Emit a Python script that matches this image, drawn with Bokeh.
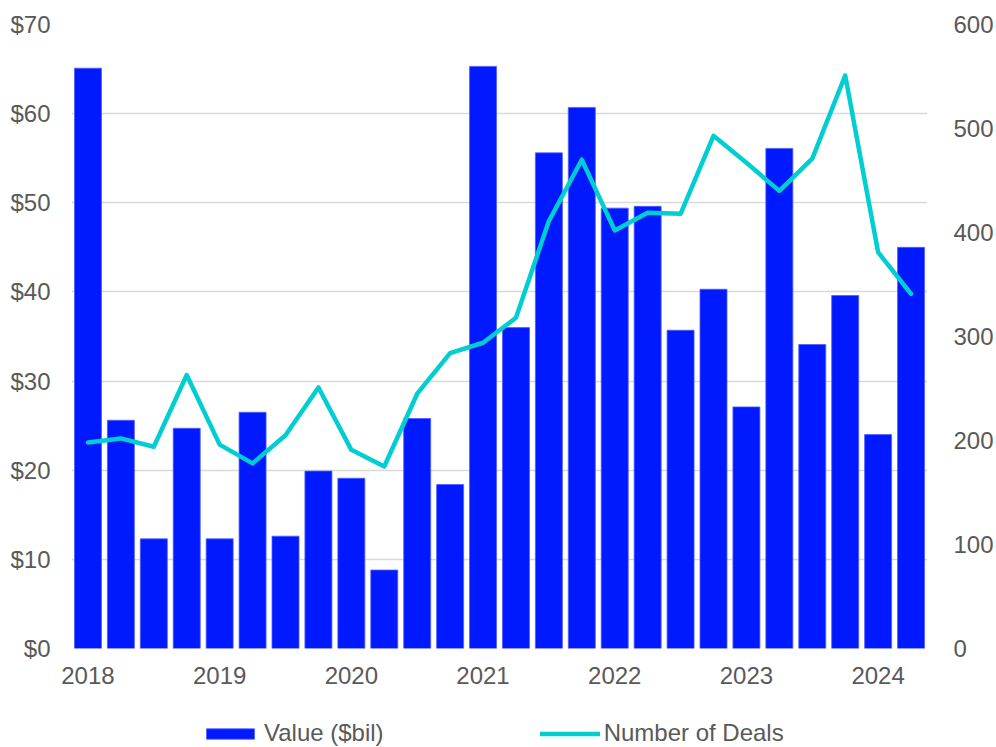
from bokeh.plotting import figure
from bokeh.layouts import column
from bokeh.models import (ColumnDataSource, Range1d, LinearAxis, FixedTicker,
                          NumeralTickFormatter, Legend, LegendItem)
from bokeh.embed import file_html
from bokeh.resources import INLINE

quarters = [f"{y} Q{q}" for y in range(2018, 2025) for q in range(1, 5)][:26]
values = [65.1, 25.6, 12.3, 24.7, 12.3, 26.5, 12.6, 19.9, 19.1, 8.8, 25.8, 18.4,
          65.3, 36.0, 55.6, 60.7, 49.4, 49.6, 35.7, 40.3, 27.1, 56.1, 34.1, 39.6,
          24.0, 45.0]
deals = [198, 202, 194, 263, 196, 178, 205, 251, 191, 175, 245, 284,
         294, 318, 411, 470, 402, 419, 418, 493, 467, 440, 471, 551,
         381, 341]
year_labels = ["2018", "2019", "2020", "2021", "2022", "2023", "2024"]
left_ticks = [0, 10, 20, 30, 40, 50, 60, 70]
right_ticks = [0, 100, 200, 300, 400, 500, 600]

idx = list(range(len(quarters)))
src = ColumnDataSource(dict(x=idx, q=quarters, v=values, d=deals))

FONT = "Liberation Sans"
TXT = "#595959"
BLUE = "#0019FF"
TEAL = "#00CED1"

p = figure(width=996, height=690, output_backend="svg", toolbar_location=None,
           x_range=Range1d(-0.5, len(quarters) - 0.5), y_range=Range1d(0, 70),
           min_border_left=71, min_border_right=64, min_border_top=24,
           min_border_bottom=42)
p.outline_line_color = None
p.extra_y_ranges = {"deals": Range1d(0, 600)}

bar_kw = dict(width=0.82, fill_color=BLUE, line_color="#4F5FFF", line_width=0.8)
line_kw = dict(line_color=TEAL, line_width=4.5, line_join="round", line_cap="round")

p.vbar(x="x", top="v", source=src, **bar_kw)
p.line(x="x", y="d", source=src, y_range_name="deals", **line_kw)

# x axis
xa = p.xaxis[0]
year_ticks = [i for i, q in enumerate(quarters) if q.endswith("Q1")]
xa.ticker = FixedTicker(ticks=year_ticks)
xa.major_label_overrides = {t: lab for t, lab in zip(year_ticks, year_labels)}
xa.major_label_standoff = 12

# left axis
ya = p.yaxis[0]
ya.ticker = FixedTicker(ticks=left_ticks)
ya.formatter = NumeralTickFormatter(format="$0")
ya.major_label_standoff = 15

ra = LinearAxis(y_range_name="deals", ticker=FixedTicker(ticks=right_ticks))
ra.major_label_standoff = 20
p.add_layout(ra, "right")

for ax in [xa, ya, ra]:
    ax.axis_line_color = None
    ax.major_tick_line_color = None
    ax.minor_tick_line_color = None
    ax.major_label_text_font = FONT
    ax.major_label_text_font_size = "24px"
    ax.major_label_text_color = TXT

p.xgrid.grid_line_color = None
p.ygrid.ticker = FixedTicker(ticks=left_ticks)
p.ygrid.grid_line_color = "#D9D9D9"
p.ygrid.grid_line_width = 1.5

# legend strip (same data, renderers kept out of view; only the legend shows)
q = figure(width=996, height=57, output_backend="svg", toolbar_location=None,
           x_range=Range1d(1000, 1001), y_range=Range1d(1000, 1001),
           min_border=0, x_axis_type=None, y_axis_type=None)
q.outline_line_color = None
q.xgrid.visible = False
q.ygrid.visible = False
lb = q.vbar(x="x", top="v", source=src, **bar_kw)
ll = q.line(x="x", y="d", source=src, **line_kw)

legend = Legend(items=[LegendItem(label="Value ($bil)", renderers=[lb]),
                       LegendItem(label="Number of Deals", renderers=[ll])],
                orientation="horizontal", location=(129, 0),
                glyph_width=60, glyph_height=13, label_standoff=4, spacing=156,
                padding=0, margin=0, border_line_color=None,
                background_fill_alpha=0, label_text_font=FONT,
                label_text_font_size="24px", label_text_color=TXT)
q.add_layout(legend, "center")

open("out.html", "w").write(file_html(column(p, q, spacing=0), INLINE))
